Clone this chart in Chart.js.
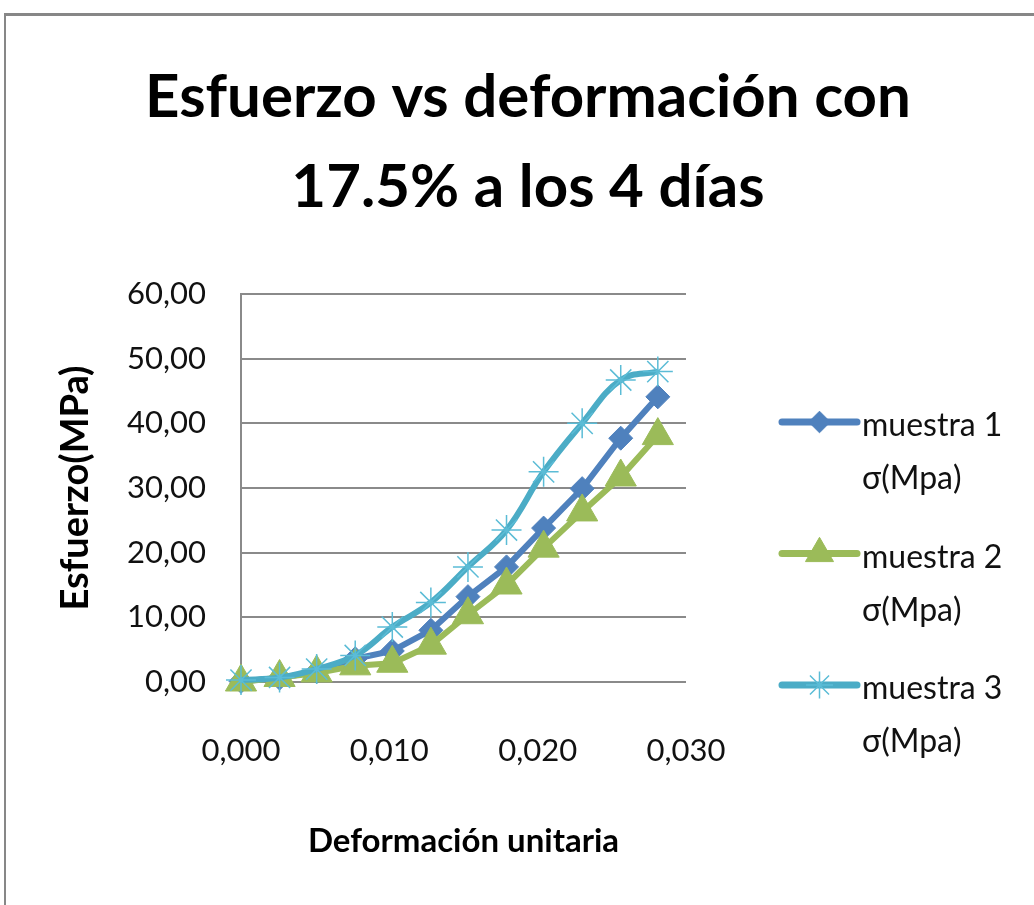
<!DOCTYPE html>
<html><head><meta charset="utf-8">
<script src="https://cdn.jsdelivr.net/npm/chart.js@4.4.1/dist/chart.umd.min.js"></script>
<style>
html,body{margin:0;padding:0;background:#fff;}
#wrap{position:relative;width:1034px;height:905px;overflow:hidden;background:#fff;}
#frame{position:absolute;left:4px;top:13px;width:1100px;height:1000px;border-top:3px solid #878787;border-left:2px solid #878787;pointer-events:none;}
canvas{position:absolute;left:0;top:0;}
</style></head><body>
<div id="wrap"><canvas id="c" width="1034" height="905"></canvas><div id="frame"></div></div>
<script>
// ---- data ----
const titleLines = ['Esfuerzo vs deformación con', '17.5% a los 4 días'];
const xTitle = 'Deformación unitaria';
const yTitle = 'Esfuerzo(MPa)';
const seriesNames = ['muestra 1 σ(Mpa)', 'muestra 2 σ(Mpa)', 'muestra 3 σ(Mpa)'];
const strain   = [0, 0.0026, 0.0051, 0.0077, 0.0102, 0.0128, 0.0153, 0.0179, 0.0204, 0.0230, 0.0256, 0.0281];
const muestra1 = [0.1, 0.6, 1.6, 3.6, 4.8, 8.0, 13.2, 17.8, 23.8, 29.9, 37.7, 44.1];
const muestra2 = [0.0, 0.7, 1.4, 2.5, 2.9, 5.7, 10.4, 15.0, 20.7, 26.3, 31.7, 38.1];
const muestra3 = [0.3, 0.7, 2.0, 4.1, 8.5, 12.3, 17.8, 23.5, 32.5, 40.0, 46.7, 48.0];
const yTickLabels = ['0,00', '10,00', '20,00', '30,00', '40,00', '50,00', '60,00'];
const xTickLabels = ['0,000', '0,010', '0,020', '0,030'];

const FONT = 'Lato, "Open Sans", sans-serif';
const pts = arr => strain.map((x, i) => ({x: x, y: arr[i]}));

// ---- side legend as a layout box ----
const LEG = {width: 348, lineX0: 96, lineX1: 171, textX: 176, firstY: 128, step: 131.5, base1: 14, base2: 67};
function drawLegend(chart, box) {
  const ctx = chart.ctx;
  ctx.save();
  chart.data.datasets.forEach((ds, i) => {
    const y0 = box.top + LEG.firstY + i * LEG.step;
    const x0 = box.left + LEG.lineX0, x1 = box.left + LEG.lineX1;
    ctx.strokeStyle = ds.borderColor;
    ctx.lineWidth = ds.borderWidth + 1;
    ctx.lineCap = 'round';
    ctx.beginPath(); ctx.moveTo(x0, y0); ctx.lineTo(x1, y0); ctx.stroke();
    ctx.fillStyle = ds.pointBackgroundColor;
    ctx.strokeStyle = ds.pointBorderColor;
    ctx.lineWidth = ds.pointBorderWidth;
    ctx.lineCap = 'butt';
    Chart.helpers.drawPoint(ctx, {pointStyle: ds.pointStyle, radius: ds.pointRadius * 0.9, rotation: 0, borderWidth: ds.pointBorderWidth}, (x0 + x1) / 2, y0);
    const k = ds.label.indexOf(' σ');
    const lines = [ds.label.slice(0, k), ds.label.slice(k + 1)];
    ctx.fillStyle = '#111';
    ctx.font = '32px ' + FONT;
    ctx.textAlign = 'left';
    ctx.textBaseline = 'alphabetic';
    ctx.fillText(lines[0], box.left + LEG.textX, y0 + LEG.base1);
    ctx.fillText(lines[1], box.left + LEG.textX, y0 + LEG.base2);
  });
  ctx.restore();
}
const sideLegend = {
  id: 'sideLegend',
  beforeInit(chart) {
    const box = {
      position: 'right', weight: 0, fullSize: false, options: {display: true},
      left: 0, top: 0, right: 0, bottom: 0, width: 0, height: 0,
      isHorizontal() { return false; },
      update(maxWidth, maxHeight) { this.width = LEG.width; this.height = maxHeight; },
      draw() { drawLegend(chart, this); }
    };
    Chart.layouts.addBox(chart, box);
  }
};

new Chart(document.getElementById('c'), {
  type: 'line',
  data: {
    datasets: [
      {label: seriesNames[0], data: pts(muestra1), borderColor: '#4F81BD', backgroundColor: '#4F81BD', borderWidth: 6,
       pointStyle: 'rectRot', pointRadius: 12, pointBackgroundColor: '#4F81BD', pointBorderColor: '#4F81BD', pointBorderWidth: 1,
       tension: 0, order: 3, clip: false},
      {label: seriesNames[1], data: pts(muestra2), borderColor: '#9BBB59', backgroundColor: '#9BBB59', borderWidth: 6,
       pointStyle: 'triangle', pointRadius: 18, pointBackgroundColor: '#9BBB59', pointBorderColor: '#9BBB59', pointBorderWidth: 1,
       tension: 0, order: 2, clip: false},
      {label: seriesNames[2], data: pts(muestra3), borderColor: '#4BACC6', backgroundColor: '#4BACC6', borderWidth: 6,
       pointStyle: 'star', pointRadius: 15, pointBackgroundColor: '#4BACC6', pointBorderColor: '#5BBCD6', pointBorderWidth: 1.5,
       tension: 0.4, order: 1, clip: false}
    ]
  },
  options: {
    responsive: false,
    animation: false,
    devicePixelRatio: 1,
    layout: {padding: {left: 22, top: 0, right: 0, bottom: 10}},
    plugins: {
      legend: {display: false},
      tooltip: {enabled: false},
      title: {display: true, text: titleLines, color: '#000',
              font: {family: FONT, size: 60, weight: 'bold', lineHeight: 1.5},
              padding: {top: 53, bottom: 61}}
    },
    scales: {
      x: {
        type: 'linear', min: 0, max: 0.03,
        ticks: {stepSize: 0.01, padding: 50, maxRotation: 0, color: '#111', font: {family: FONT, size: 31},
                callback: (v, i) => xTickLabels[i]},
        grid: {display: false, drawTicks: false},
        border: {display: false},
        title: {display: true, text: xTitle, color: '#000', font: {family: FONT, size: 33, weight: 'bold'}, padding: {top: 0, bottom: 34}},
        afterFit(s) { s.height = 213; }
      },
      y: {
        type: 'linear', min: 0, max: 60,
        ticks: {stepSize: 10, padding: 35, color: '#111', font: {family: FONT, size: 31},
                callback: (v, i) => yTickLabels[i]},
        grid: {color: '#8a8a8a', lineWidth: 2, drawTicks: false},
        border: {display: true, color: '#8a8a8a', width: 2},
        title: {display: true, text: yTitle, color: '#000', font: {family: FONT, size: 38, weight: 'bold'}, padding: {top: 31, bottom: 0}},
        afterFit(s) { s.width = 219; }
      }
    }
  },
  plugins: [sideLegend]
});
</script>
</body></html>
